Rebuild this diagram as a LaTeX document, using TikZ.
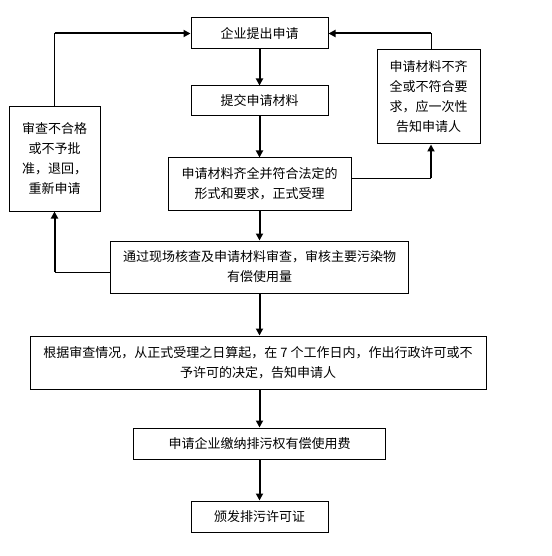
\documentclass[tikz,border=0pt]{standalone}
\usepackage{fontspec}
\setmainfont{Noto Sans CJK SC}
\usepackage{tikz}
\usetikzlibrary{arrows.meta}
\tikzstyle{stepbox}=[draw, line width=1pt, inner sep=0pt, align=center, font=\fontsize{13pt}{20pt}\selectfont]
\tikzstyle{flow}=[line width=2pt, -{Triangle[width=7pt,length=7pt]}]
\tikzstyle{link}=[line width=1pt]

\begin{document}
\begin{tikzpicture}[x=1pt, y=-1pt]
\useasboundingbox (0,0) rectangle (551,556);
\node[stepbox, minimum width=137pt, minimum height=31pt] (s1) at (259.5, 33.5) {企业提出申请};
\node[stepbox, minimum width=137pt, minimum height=30pt] (s2) at (259.5, 101) {提交申请材料};
\node[stepbox, minimum width=183pt, minimum height=52pt] (s3) at (259.5, 184) {申请材料齐全并符合法定的\\形式和要求，正式受理};
\node[stepbox, minimum width=298pt, minimum height=52pt] (s4) at (259.5, 267) {通过现场核查及申请材料审查，审核主要污染物\\有偿使用量};
\node[stepbox, minimum width=456pt, minimum height=53pt] (s5) at (258, 362.5) {根据审查情况，从正式受理之日算起，在 7 个工作日内，作出行政许可或不\\予许可的决定，告知申请人};
\node[stepbox, minimum width=252pt, minimum height=31pt] (s6) at (259.5, 443.5) {申请企业缴纳排污权有偿使用费};
\node[stepbox, minimum width=137pt, minimum height=31pt] (s7) at (259.5, 516.5) {颁发排污许可证};

\node[stepbox, minimum width=91pt,  minimum height=104pt] (fl) at (54.5, 159) {审查不合格\\或不予批\\准，退回，\\重新申请};
\node[stepbox, minimum width=103pt, minimum height=94pt]  (fr) at (428.5, 97) {申请材料不齐\\全或不符合要\\求，应一次性\\告知申请人};

\coordinate (lcorner) at (54.5, 272);
\coordinate (ltop)    at (54.5, 33.5);
\coordinate (rcorner) at (431, 178);
\coordinate (rtop)    at (431, 33.5);

\draw[flow] (s1) -- (s2);
\draw[flow] (s2) -- (s3);
\draw[flow] (s3) -- (s4);
\draw[flow] (s4.south) -- (s4.south|-s5.north);
\draw[flow] (s6.north|-s5.south) -- (s6.north);
\draw[flow] (s6) -- (s7);

\draw[link] (s4.west|-lcorner) -- (lcorner);
\draw[flow] (lcorner) -- (fl.south);
\draw[link] (fl.north) -- (ltop);
\draw[flow] (ltop) -- (s1.west);

\draw[link] (s3.east|-rcorner) -- (rcorner);
\draw[flow] (rcorner) -- (rcorner|-fr.south);
\draw[link] (rcorner|-fr.north) -- (rtop);
\draw[flow] (rtop) -- (s1.east);
\end{tikzpicture}
\end{document}
